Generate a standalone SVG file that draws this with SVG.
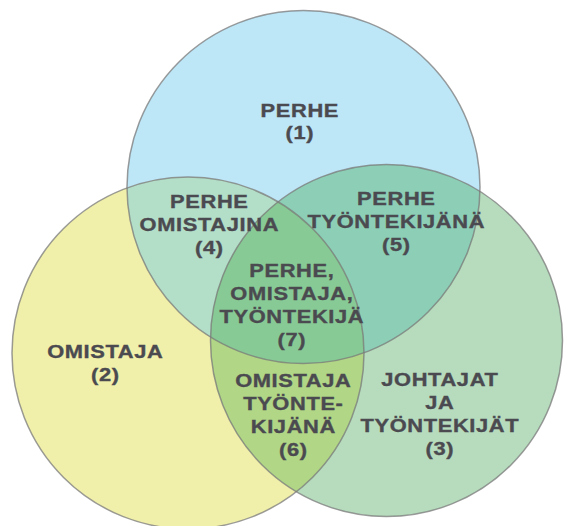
<svg xmlns="http://www.w3.org/2000/svg" width="567" height="526" viewBox="0 0 567 526">
<style>
.lbl text{font-family:"Liberation Sans",Arial,sans-serif;font-weight:bold;font-size:17.5px;letter-spacing:0.5px;fill:#4b4a50;stroke:#4b4a50;stroke-width:0.35px;text-anchor:middle}
.edge{fill:none;stroke:#7a7a7a;stroke-opacity:0.75;stroke-width:1.5}
</style>
<defs>
<clipPath id="cb"><circle cx="303.5" cy="187" r="176.5"/></clipPath>
<clipPath id="cy"><circle cx="188" cy="353" r="176"/></clipPath>
<clipPath id="cg"><circle cx="386.5" cy="340.5" r="176"/></clipPath>
</defs>
<rect width="567" height="526" fill="#ffffff"/>
<g id="circles">
<circle id="perhe" cx="303.5" cy="187" r="176.5" fill="#bde6f7"/>
<circle id="omistaja" cx="188" cy="353" r="176" fill="#f1f0aa"/>
<circle id="tyontekija" cx="386.5" cy="340.5" r="176" fill="#b6dcbd"/>
<circle id="by" cx="188" cy="353" r="176" fill="#b3dfc9" clip-path="url(#cb)"/>
<circle id="bg" cx="386.5" cy="340.5" r="176" fill="#8ccfb6" clip-path="url(#cb)"/>
<circle id="yg" cx="386.5" cy="340.5" r="176" fill="#b0d686" clip-path="url(#cy)"/>
<g clip-path="url(#cy)"><circle id="byg" cx="386.5" cy="340.5" r="176" fill="#87ca95" clip-path="url(#cb)"/></g>
<circle class="edge" cx="303.5" cy="187" r="176.5"/>
<circle class="edge" cx="188" cy="353" r="176"/>
<circle class="edge" cx="386.5" cy="340.5" r="176"/>
</g>
<g id="n1" class="lbl" transform="translate(299.5 0) scale(1.25 1)"><text x="0.25" y="116.7">PERHE</text><text x="0.25" y="139.5">(1)</text></g>
<g id="n4" class="lbl" transform="translate(209 0) scale(1.25 1)"><text x="0.25" y="208.5">PERHE</text><text x="0.25" y="231.5">OMISTAJINA</text><text x="0.25" y="254.5">(4)</text></g>
<g id="n5" class="lbl" transform="translate(396 0) scale(1.25 1)"><text x="0.25" y="205">PERHE</text><text x="0.25" y="228">TYÖNTEKIJÄNÄ</text><text x="0.25" y="251">(5)</text></g>
<g id="n2" class="lbl" transform="translate(105 0) scale(1.25 1)"><text x="0.25" y="358.5">OMISTAJA</text><text x="0.25" y="381.5">(2)</text></g>
<g id="n7" class="lbl" transform="translate(291.5 0) scale(1.25 1)"><text x="0.25" y="277">PERHE,</text><text x="0.25" y="300">OMISTAJA,</text><text x="0.25" y="323">TYÖNTEKIJÄ</text><text x="0.25" y="346">(7)</text></g>
<g id="n6" class="lbl" transform="translate(293 0) scale(1.25 1)"><text x="0.25" y="387">OMISTAJA</text><text x="0.25" y="410">TYÖNTE-</text><text x="0.25" y="433">KIJÄNÄ</text><text x="0.25" y="456">(6)</text></g>
<g id="n3" class="lbl" transform="translate(439.5 0) scale(1.25 1)"><text x="0.25" y="386">JOHTAJAT</text><text x="0.25" y="409.5">JA</text><text x="0.25" y="432.5">TYÖNTEKIJÄT</text><text x="0.25" y="455.5">(3)</text></g>
</svg>
